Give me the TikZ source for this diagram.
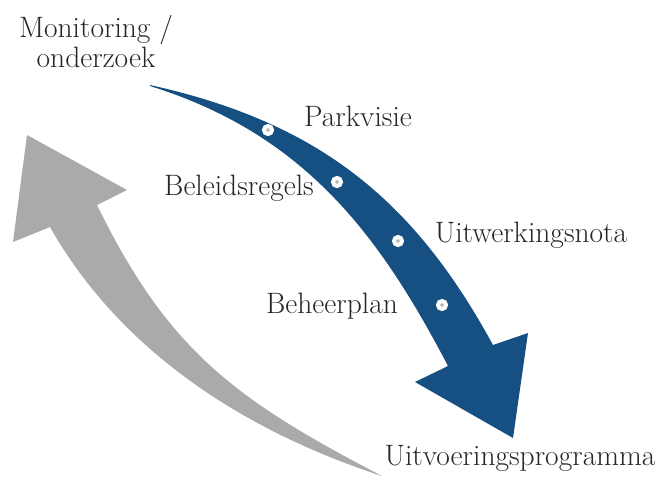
\documentclass[tikz,border=0pt]{standalone}
\usepackage{tikz}
\definecolor{parkblue}{RGB}{22,80,130}
\definecolor{parkgrey}{RGB}{170,170,170}

\begin{document}
\begin{tikzpicture}[x=1pt,y=-1pt,
  stap/.style={font=\fontsize{29.5}{30}\selectfont, text=black!85, inner sep=0pt},
  punt/.style={circle, fill=gray!60, draw=white, line width=4pt, inner sep=0pt, minimum size=8pt}]
\useasboundingbox (0,0) rectangle (662,479);

% grijze pijl terug
\fill[parkgrey] (382,476) .. controls (238,429) and (118,347) .. (50,227) -- (13,242) -- (27,135)
  -- (127,190) -- (97,205) .. controls (168,350) and (234,399) .. (382,476) -- cycle;

% blauwe pijl
\fill[parkblue] (150,85) .. controls (317,122) and (413,198) .. (493,345) -- (528,333) -- (513,438)
  -- (415,382) -- (448,366) .. controls (379,234) and (304,134) .. (150,86) -- cycle;

\node[punt] (p1) at (268,130) {};
\node[punt] (p2) at (337,182) {};
\node[punt] (p3) at (398,241) {};
\node[punt] (p4) at (442,305) {};

\node[stap, align=center, anchor=base] (monitoring) at (96,67) {Monitoring /\\onderzoek};
\node[stap, anchor=base] (parkvisie) at (358,126) {Parkvisie};
\node[stap, anchor=base] (beleid) at (239,195) {Beleidsregels};
\node[stap, anchor=base] (nota) at (531,242) {Uitwerkingsnota};
\node[stap, anchor=base] (beheer) at (332,313) {Beheerplan};
\node[stap, anchor=base] (programma) at (520,465) {Uitvoeringsprogramma};
\end{tikzpicture}
\end{document}
